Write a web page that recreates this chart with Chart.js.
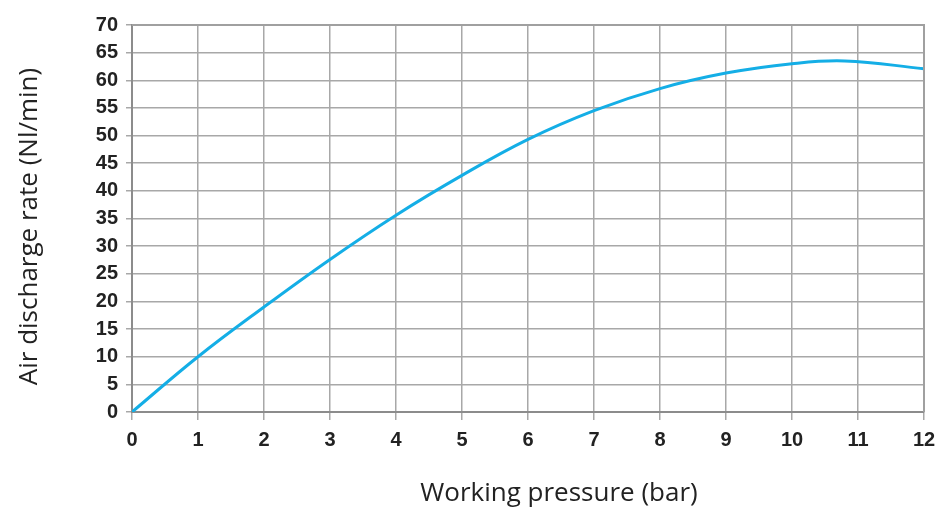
<!DOCTYPE html>
<html>
<head>
<meta charset="utf-8">
<script src="https://cdn.jsdelivr.net/npm/chart.js@4"></script>
<style>
  html, body { margin: 0; padding: 0; background: #fff; }
  #wrap { width: 949px; height: 511px; }
</style>
</head>
<body>
<div id="wrap"><canvas id="chart"></canvas></div>
<script>
// working pressure (bar) and air discharge (Nl/min)
const pressure = [0, 1, 2, 3, 4, 5, 6, 7, 8, 9, 10, 10.8, 12];
const discharge = [0, 10, 19, 27.6, 35.6, 42.8, 49.3, 54.5, 58.5, 61.3, 63.0, 63.5, 62.1];

const xTitle = "Working pressure (bar)";
const yTitle = "Air discharge rate (Nl/min)";

const points = pressure.map((p, i) => ({ x: p, y: discharge[i] }));

const gridColor = "#a8a8a8";
const tickFont = { family: "Liberation Sans, Arial, sans-serif", size: 20, weight: "bold" };
const titleFont = "26px 'Open Sans', 'Noto Sans', sans-serif";

new Chart(document.getElementById("chart"), {
  type: "line",
  data: {
    datasets: [{
      data: points,
      borderColor: "#14aee6",
      borderWidth: 3,
      pointRadius: 0,
      tension: 0.4,
      fill: false,
    }],
  },
  options: {
    responsive: true,
    maintainAspectRatio: false,
    animation: false,
    layout: { padding: { left: 6, right: 25, top: 25, bottom: 3 } },
    plugins: { legend: { display: false }, tooltip: { enabled: false } },
    scales: {
      x: {
        type: "linear",
        min: 0,
        max: 12,
        ticks: { stepSize: 1, color: "#222", font: tickFont, padding: 8 },
        grid: { color: gridColor, lineWidth: 1.5, tickLength: 8 },
        border: { color: "#8c8c8c", width: 2 },
        afterFit: (axis) => { axis.height = 96; },
      },
      y: {
        min: 0,
        max: 70,
        ticks: { stepSize: 5, color: "#222", font: tickFont, padding: 8 },
        grid: { color: gridColor, lineWidth: 1.5, tickLength: 6 },
        border: { color: "#8c8c8c", width: 2 },
        afterFit: (axis) => { axis.width = 126; },
      },
    },
  },
  plugins: [{
    id: "frame",
    afterDraw(chart) {
      const { ctx, chartArea: a } = chart;
      ctx.save();
      ctx.strokeStyle = "#a0a0a0";
      ctx.lineWidth = 2;
      ctx.beginPath();
      ctx.moveTo(a.left, a.top);
      ctx.lineTo(a.right, a.top);
      ctx.lineTo(a.right, a.bottom);
      ctx.stroke();

      // axis titles, placed a little off-centre like the original
      ctx.fillStyle = "#222";
      ctx.font = titleFont;
      ctx.textAlign = "center";
      ctx.textBaseline = "middle";
      ctx.fillText(xTitle, (a.left + a.right) / 2 + 31, a.bottom + 82);
      ctx.translate(30, (a.top + a.bottom) / 2 + 8);
      ctx.rotate(-Math.PI / 2);
      ctx.fillText(yTitle, 0, 0);
      ctx.restore();
    },
  }],
});
</script>
</body>
</html>
